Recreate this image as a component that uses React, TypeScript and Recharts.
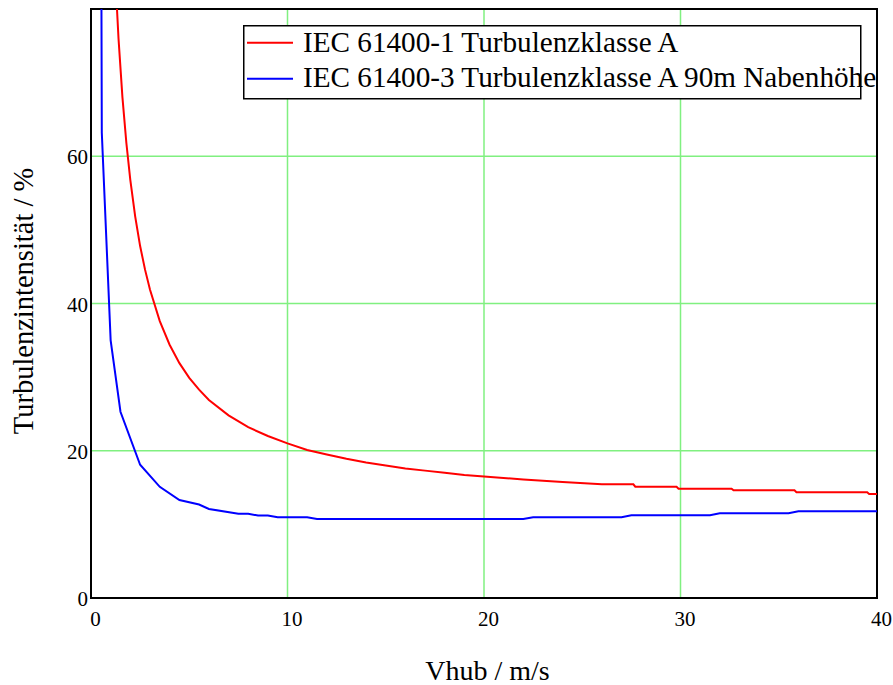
import React from 'react';
import { LineChart, Line, XAxis, YAxis, CartesianGrid, ReferenceArea, Legend } from 'recharts';

// wind speed at hub height (m/s) and turbulence intensity (%)
const iec1Speed = [
  1.25, 1.4, 1.6, 1.8, 2.0, 2.25, 2.5, 2.75, 3.0, 3.5, 4.0, 4.5, 5.0, 5.5, 6.0, 7.0, 8.0, 9.0,
  10, 11, 12, 13, 14, 15, 16, 17, 18, 19, 20, 22, 24, 26, 27.6, 27.7, 29.8, 29.9, 32.6, 32.7,
  35.8, 35.9, 39.5, 39.6, 40,
];
const iec1Ti = [
  83.7, 76.0, 68.0, 61.8, 56.8, 51.8, 47.8, 44.6, 41.9, 37.6, 34.4, 31.9, 29.9, 28.3, 26.9, 24.8, 23.2, 22.0,
  21.0, 20.1, 19.5, 18.9, 18.4, 18.0, 17.6, 17.3, 17.0, 16.7, 16.5, 16.1, 15.75, 15.45, 15.45, 15.12, 15.12, 14.85, 14.85, 14.63,
  14.63, 14.36, 14.36, 14.13, 14.13,
];

const iec3Speed = [
  0.5, 0.55, 1.0, 1.5, 2.5, 3.5, 4.5, 5.5, 6.0, 7.5, 8.0, 8.5, 9.0, 9.5, 11.0, 11.5, 22.0, 22.5,
  27.0, 27.5, 31.5, 32.0, 35.5, 36.0, 40.0,
];
const iec3Ti = [
  110, 63.2, 35.0, 25.3, 18.1, 15.1, 13.3, 12.7, 12.1, 11.45, 11.45, 11.2, 11.2, 10.96, 10.96, 10.73, 10.73, 10.96,
  10.96, 11.24, 11.24, 11.5, 11.5, 11.78, 11.78,
];

const seriesNames = ['IEC 61400-1 Turbulenzklasse A', 'IEC 61400-3 Turbulenzklasse A 90m Nabenhöhe'];
const seriesColors = ['#ff0000', '#0000ff'];

const xTicks = [0, 10, 20, 30, 40];
const yTicks = [0, 20, 40, 60];

const serif = { fontFamily: 'Liberation Serif, Times New Roman, DejaVu Serif, serif' };

const iec1Data = iec1Speed.map((v, i) => ({ v, ti: iec1Ti[i] }));
const iec3Data = iec3Speed.map((v, i) => ({ v, ti: iec3Ti[i] }));

const XTick = ({ x, y, payload }: any) => (
  <text x={x + 4.5} y={y + 28} textAnchor="middle" style={serif} fontSize={21} fill="#000">
    {payload.value}
  </text>
);

const YTick = ({ x, y, payload }: any) => (
  <text x={x - 3} y={y + 8} textAnchor="end" style={serif} fontSize={21} fill="#000">
    {payload.value}
  </text>
);

const XTitle = ({ viewBox }: any) => (
  <text x={viewBox.x + viewBox.width / 2 + 3.5} y={viewBox.y + 82} textAnchor="middle" style={serif} fontSize={28} fill="#000">
    Vhub / m/s
  </text>
);

const YTitle = ({ viewBox }: any) => {
  const cx = 33;
  const cy = viewBox.y + viewBox.height / 2 - 2.5;
  return (
    <text x={cx} y={cy} transform={`rotate(-90, ${cx}, ${cy})`} textAnchor="middle" style={serif} fontSize={28.5} fill="#000">
      Turbulenzintensität / %
    </text>
  );
};

// boxed legend in the top right of the plot
const LegendBox = ({ payload }: any) => (
  <svg width={620} height={76} style={{ overflow: 'visible', display: 'block' }}>
    <rect x={0.75} y={0.75} width={617} height={73} fill="#fff" stroke="#000" strokeWidth={1.5} />
    {(payload || []).map((entry: any, i: number) => (
      <g key={entry.value}>
        <line x1={4} x2={50} y1={17.7 + i * 36} y2={17.7 + i * 36} stroke={entry.color} strokeWidth={2} />
        <text x={60} y={26.7 + i * 35.6} style={serif} fontSize={29.2} fill="#000">
          {entry.value}
        </text>
      </g>
    ))}
  </svg>
);

export default function App() {
  return (
    <div style={{ position: 'absolute', left: 0, top: 0, background: '#fff' }}>
      <LineChart width={893} height={685} margin={{ top: 9, right: 16, bottom: 0, left: 0 }}>
        <CartesianGrid stroke="#80f080" strokeWidth={1.5} />
        <XAxis
          type="number"
          dataKey="v"
          domain={[0, 40]}
          ticks={xTicks}
          allowDataOverflow
          height={87}
          axisLine={false}
          tickLine={false}
          tickSize={0}
          tickMargin={0}
          tick={<XTick />}
          label={<XTitle />}
        />
        <YAxis
          type="number"
          dataKey="ti"
          domain={[0, 80]}
          ticks={yTicks}
          allowDataOverflow
          width={91}
          axisLine={false}
          tickLine={false}
          tickSize={0}
          tickMargin={0}
          tick={<YTick />}
          label={<YTitle />}
        />
        <ReferenceArea x1={0} x2={40} y1={0} y2={80} fill="none" stroke="#000" strokeWidth={2} />
        <Legend
          layout="horizontal"
          verticalAlign="middle"
          align="center"
          wrapperStyle={{ left: 243, top: 25, width: 620, height: 76 }}
          content={<LegendBox />}
        />
        <Line
          data={iec1Data}
          dataKey="ti"
          name={seriesNames[0]}
          stroke={seriesColors[0]}
          strokeWidth={2}
          dot={false}
          isAnimationActive={false}
        />
        <Line
          data={iec3Data}
          dataKey="ti"
          name={seriesNames[1]}
          stroke={seriesColors[1]}
          strokeWidth={2}
          dot={false}
          isAnimationActive={false}
        />
      </LineChart>
    </div>
  );
}
